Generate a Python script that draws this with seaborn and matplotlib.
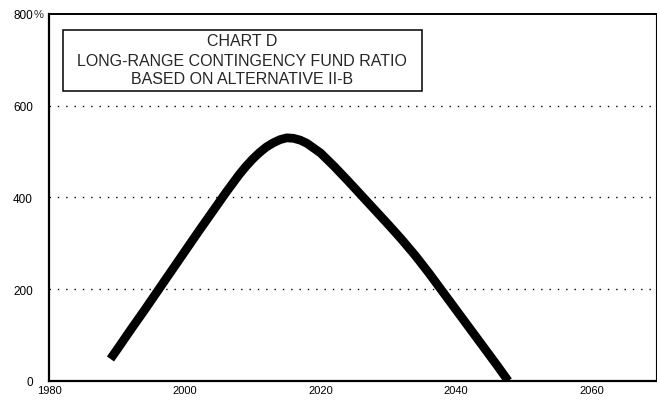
import matplotlib
matplotlib.use("Agg")
import matplotlib.pyplot as plt
from matplotlib.patches import Rectangle
import seaborn as sns
import pandas as pd

# Data
years = [1989, 1990, 1992, 1994, 1996, 1998, 2000, 2002, 2004, 2006, 2008, 2009, 2010,
         2011, 2012, 2013, 2014, 2015, 2016, 2017, 2018, 2020, 2022, 2024, 2026, 2028,
         2030, 2032, 2034, 2036, 2038, 2040, 2042, 2044, 2046, 2047.7]
ratio = [48, 69, 112, 154, 197, 240, 283, 326, 368, 410, 450, 468, 484,
         498, 510, 519, 526, 530, 529, 525, 518, 497, 468, 437, 405, 373,
         341, 308, 273, 235, 195, 155, 115, 75, 35, 0]

x_ticks = [1980, 2000, 2020, 2040, 2060]
y_ticks = [0, 200, 400, 600, 800]
y_tick_labels = ["0", "200", "400", "600", "800"]
title_lines = ["CHART D", "LONG-RANGE CONTINGENCY FUND RATIO", "BASED ON ALTERNATIVE II-B"]

sns.set_style("white")
plt.rcParams["font.family"] = ["Liberation Sans", "DejaVu Sans"]

fig = plt.figure(figsize=(6.57, 4.02), dpi=100)
ax = fig.add_axes([0.0753, 0.0498, 0.9232, 0.9129])

df = pd.DataFrame({"year": years, "ratio": ratio})
sns.lineplot(data=df, x="year", y="ratio", ax=ax, color="black", linewidth=6.3,
             solid_capstyle="butt", solid_joinstyle="round", zorder=3)

ax.set_xlim(1980, 2069.5)
ax.set_ylim(0, 800)
ax.set_xlabel("")
ax.set_ylabel("")

for v in [200, 400, 600]:
    ax.axhline(v, color="black", linewidth=1.0, linestyle=(0, (1, 5)), zorder=1)

ax.set_xticks(x_ticks)
ax.set_xticklabels([str(t) for t in x_ticks], fontsize=8)
ax.set_yticks(y_ticks)
ax.set_yticklabels(y_tick_labels, fontsize=8.5)
ax.tick_params(axis="x", direction="in", length=6, width=1.2, pad=3, colors="black")
ax.tick_params(axis="y", length=0, pad=12, colors="black")
# percent sign after the top label
fig.text(34 / 657, 1 - 15 / 402, "%", fontsize=8, ha="left", va="center")

for side, lw in [("left", 1.6), ("bottom", 1.6), ("top", 1.4), ("right", 0.8)]:
    ax.spines[side].set_visible(True)
    ax.spines[side].set_color("black")
    ax.spines[side].set_linewidth(lw)

# title box
fig.patches.append(Rectangle((63 / 657, 1 - 92 / 402), 359 / 657, 61 / 402,
                             transform=fig.transFigure, fill=False,
                             edgecolor="black", linewidth=1.1))
for ypix, line in zip([42, 62, 80], title_lines):
    fig.text(242 / 657, 1 - ypix / 402, line, fontsize=11.5, ha="center", va="center")

fig.savefig("out.png", dpi=100)
